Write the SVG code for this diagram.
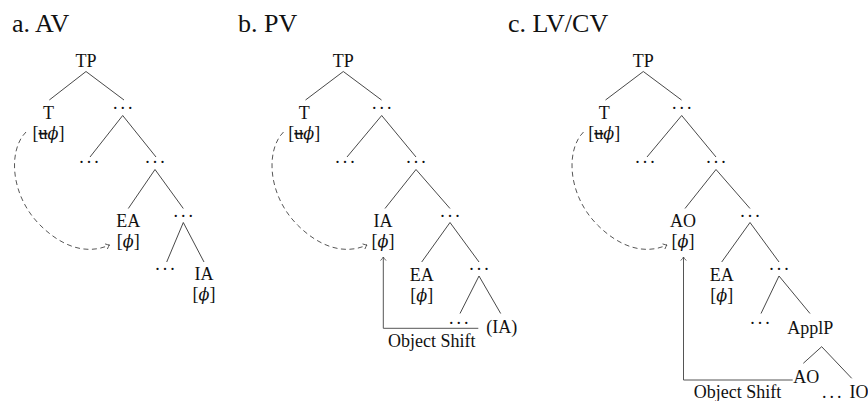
<svg xmlns="http://www.w3.org/2000/svg" width="868" height="401" viewBox="0 0 868 401">
<style>
text{font-family:"Liberation Serif","Times New Roman",serif;fill:#111;}
.t{font-size:26px;}
.n{font-size:18px;text-anchor:middle;}
.d{font-size:18px;text-anchor:middle;letter-spacing:3px;}
.phi{font-style:italic;font-family:"DejaVu Serif","Liberation Serif",serif;font-size:16px;}
.e{stroke:#333;stroke-width:0.9;fill:none;}
.dash{stroke:#444;stroke-width:0.9;fill:none;stroke-dasharray:5 3.5;}
.os{stroke:#555;stroke-width:1;fill:none;}
.strike{text-decoration:line-through;}
</style>
<defs>
<marker id="to" viewBox="-5 -4 6 8" markerWidth="6" markerHeight="8" refX="0" refY="0" orient="auto" markerUnits="userSpaceOnUse">
<path d="M-3.6,-2.8 Q-1.2,-0.6 0,0 Q-1.2,0.6 -3.6,2.8" stroke="#444" stroke-width="0.8" fill="none"/>
</marker>
</defs>
<rect width="868" height="401" fill="#fff"/>

<!-- titles -->
<text id="title-a" class="t" x="12" y="32">a. AV</text>
<text id="title-b" class="t" x="238" y="32">b. PV</text>
<text id="title-c" class="t" x="508" y="32">c. LV/CV</text>

<!-- Tree a nodes -->
<g id="a-TP"><text class="n" x="86" y="66.5">TP</text></g>
<g id="a-T"><text class="n" x="48.5" y="119">T</text><text class="n" x="48.5" y="139">[<tspan class="strike">u</tspan><tspan class="phi">ϕ</tspan>]</text></g>
<g id="a-d1"><text class="d" x="124.2" y="109">...</text></g>
<g id="a-d2l"><text class="d" x="90.5" y="163">...</text></g>
<g id="a-d2r"><text class="d" x="156.5" y="163">...</text></g>
<g id="a-EA"><text class="n" x="128.3" y="227">EA</text><text class="n" x="128.3" y="246.5">[<tspan class="phi">ϕ</tspan>]</text></g>
<g id="a-d3"><text class="d" x="184.8" y="216.5">...</text></g>
<g id="a-d4"><text class="d" x="166.5" y="269.5">...</text></g>
<g id="a-IA"><text class="n" x="204" y="280.3">IA</text><text class="n" x="204" y="299.5">[<tspan class="phi">ϕ</tspan>]</text></g>

<!-- Tree b nodes -->
<g id="b-TP"><text class="n" x="343.3" y="66.5">TP</text></g>
<g id="b-T"><text class="n" x="304.3" y="119">T</text><text class="n" x="304.3" y="139">[<tspan class="strike">u</tspan><tspan class="phi">ϕ</tspan>]</text></g>
<g id="b-d1"><text class="d" x="383.2" y="109">...</text></g>
<g id="b-d2l"><text class="d" x="346.5" y="163">...</text></g>
<g id="b-d2r"><text class="d" x="417.5" y="163">...</text></g>
<g id="b-IA"><text class="n" x="383" y="227">IA</text><text class="n" x="383" y="246.5">[<tspan class="phi">ϕ</tspan>]</text></g>
<g id="b-d3"><text class="d" x="451.5" y="216.5">...</text></g>
<g id="b-EA"><text class="n" x="421.7" y="281">EA</text><text class="n" x="421.7" y="300.5">[<tspan class="phi">ϕ</tspan>]</text></g>
<g id="b-d4"><text class="d" x="480.5" y="269.5">...</text></g>
<g id="b-d5"><text class="d" x="460.2" y="324">...</text></g>
<g id="b-IAt"><text class="n" x="501.7" y="333.3">(IA)</text></g>
<g id="b-os-label"><text class="n" x="431.7" y="346.7">Object Shift</text></g>

<!-- Tree c nodes -->
<g id="c-TP"><text class="n" x="643.3" y="66.5">TP</text></g>
<g id="c-T"><text class="n" x="604.3" y="119">T</text><text class="n" x="604.3" y="139">[<tspan class="strike">u</tspan><tspan class="phi">ϕ</tspan>]</text></g>
<g id="c-d1"><text class="d" x="683.2" y="109">...</text></g>
<g id="c-d2l"><text class="d" x="646.5" y="163">...</text></g>
<g id="c-d2r"><text class="d" x="717.5" y="163">...</text></g>
<g id="c-AO"><text class="n" x="683" y="227">AO</text><text class="n" x="683" y="246.5">[<tspan class="phi">ϕ</tspan>]</text></g>
<g id="c-d3"><text class="d" x="751.5" y="216.5">...</text></g>
<g id="c-EA"><text class="n" x="721.7" y="281">EA</text><text class="n" x="721.7" y="300.5">[<tspan class="phi">ϕ</tspan>]</text></g>
<g id="c-d4"><text class="d" x="780.5" y="269.5">...</text></g>
<g id="c-d5"><text class="d" x="761.5" y="324">...</text></g>
<g id="c-ApplP"><text class="n" x="810.3" y="334">ApplP</text></g>
<g id="c-AOt"><text class="n" x="806.3" y="383.3">AO</text></g>
<g id="c-IO"><text class="n" y="398.3"><tspan class="d" x="833.2">...</tspan><tspan x="859" style="letter-spacing:0">IO</tspan></text></g>
<g id="c-os-label"><text class="n" x="737.5" y="398.3">Object Shift</text></g>

<!-- connectors -->
<g id="connectors">
<!-- tree a -->
<path class="e" d="M86,71.5L49.3,100M86,71.5L124,100"/>
<path class="e" d="M122.7,115.5L90,157M122.7,115.5L156,157"/>
<path class="e" d="M155,169.5L128.3,208.5M155,169.5L183.3,208.5"/>
<path class="e" d="M183.3,222.5L166.7,262M183.3,222.5L204,262"/>
<path class="dash" marker-end="url(#to)" d="M26,132C8,150 10,195 40,225C60,245 85,256 109.5,245"/>
<!-- tree b -->
<path class="e" d="M343.3,71.5L305.5,100M343.3,71.5L381.5,100"/>
<path class="e" d="M381.7,115.5L347,157M381.7,115.5L416,157"/>
<path class="e" d="M416,169.5L385,208.5M416,169.5L450,208.5"/>
<path class="e" d="M450,222.5L421.7,262M450,222.5L479,262"/>
<path class="e" d="M479,276L460,313.5M479,276L500.7,313.5"/>
<path class="dash" marker-end="url(#to)" d="M283.5,132C265.5,150 267.5,195 297.5,225C317.5,245 342.5,256 367,245"/>
<path class="os" marker-end="url(#to)" d="M478.3,328.3H383.3V257"/>
<!-- tree c -->
<path class="e" d="M643.3,71.5L605.5,100M643.3,71.5L681.5,100"/>
<path class="e" d="M681.7,115.5L647,157M681.7,115.5L716,157"/>
<path class="e" d="M716,169.5L685,208.5M716,169.5L750,208.5"/>
<path class="e" d="M750,222.5L721.7,262M750,222.5L779,262"/>
<path class="e" d="M779,276L761,313.5M779,276L810,313.5"/>
<path class="e" d="M821.7,346.7L803.3,363.3M821.7,346.7L851.7,378.3"/>
<path class="dash" marker-end="url(#to)" d="M583.5,132C565.5,150 567.5,195 597.5,225C617.5,245 642.5,256 667,245"/>
<path class="os" marker-end="url(#to)" d="M792.7,380H683.5V257"/>
</g>
</svg>
